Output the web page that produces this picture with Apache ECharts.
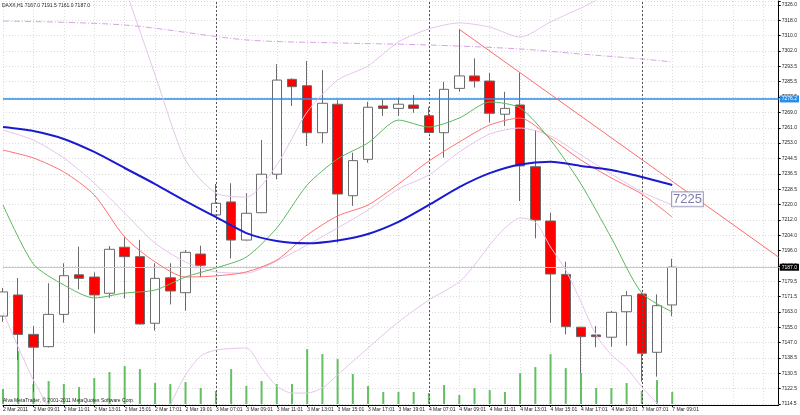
<!DOCTYPE html>
<html><head><meta charset="utf-8">
<script src="https://cdn.jsdelivr.net/npm/echarts@6/dist/echarts.min.js"></script>
<style>html,body{margin:0;padding:0;background:#fff}#c{width:800px;height:415px}</style>
</head><body><div id="c"></div>
<script>
// ---- data ----
const hours = ['07:01','08:01','09:01','10:01','11:01','12:01','13:01','14:01','15:01','16:01','17:01','18:01','19:01','20:01'];
const days = ['2 Mar','3 Mar','4 Mar'];
const categories = [];
days.forEach(d => hours.forEach(h => categories.push(d + ' ' + h)));
categories.push('7 Mar 07:01','7 Mar 08:01','7 Mar 09:01');
const padCategories = ['p1','p2','p3','p4','p5','p6','p7'];
const firstLabel = '2 Mar 2011';

const opens  = [7161.1,7172.3,7151.4,7144.9,7162.0,7183.0,7181.8,7173.2,7197.6,7192.6,7157.3,7181.4,7173.5,7194.0,7214.7,7221.6,7201.4,7215.9,7236.3,7286.6,7283.2,7258.3,7273.4,7224.9,7244.2,7272.5,7271.2,7273.0,7267.3,7258.3,7281.8,7288.4,7285.7,7268.1,7273.0,7240.3,7211.5,7183.2,7155.2,7151.1,7149.9,7163.4,7172.8,7141.9,7167.0];
const closes = [7173.9,7151.4,7144.6,7162.0,7182.5,7181.1,7172.3,7196.5,7192.6,7156.9,7181.1,7174.4,7194.9,7188.0,7220.9,7201.4,7215.6,7236.3,7286.2,7282.7,7258.3,7273.9,7225.8,7243.5,7271.8,7271.2,7273.4,7271.2,7258.4,7281.3,7288.4,7285.7,7268.6,7271.2,7240.7,7212.0,7183.4,7155.5,7150.2,7150.2,7163.1,7171.9,7141.4,7166.6,7187.0];
const lows   = [7158.0,7137.8,7121.0,7144.5,7157.6,7175.3,7152.0,7170.8,7170.5,7156.6,7153.4,7167.3,7164.0,7181.7,7214.4,7191.7,7201.2,7215.7,7233.6,7272.5,7251.3,7252.7,7200.0,7219.5,7242.4,7267.2,7267.2,7268.9,7258.1,7245.1,7280.0,7282.2,7263.6,7261.9,7222.1,7202.3,7157.6,7151.4,7130.8,7144.6,7144.9,7145.4,7126.3,7129.0,7161.0];
const highs  = [7176.0,7181.3,7155.8,7178.5,7189.1,7197.9,7184.3,7198.2,7203.0,7201.5,7189.1,7189.1,7196.1,7198.4,7231.1,7231.5,7226.2,7254.4,7294.6,7287.1,7296.3,7291.5,7275.6,7247.7,7274.7,7276.0,7276.9,7278.3,7271.9,7285.3,7313.1,7297.7,7290.1,7280.0,7290.1,7259.7,7215.9,7189.9,7155.4,7155.8,7163.8,7174.4,7173.3,7172.6,7191.5];
const volumes = [600,2120,800,920,800,680,1040,1280,1520,1400,840,800,880,640,520,1400,720,920,800,800,2200,2000,1800,1200,720,480,480,480,440,760,360,640,560,480,1240,1480,2000,1440,1240,640,640,840,520,960,480];

const maBlue  = [7261.3,null,7259.2,null,7255.0,null,7248.1,null,7239.6,null,7231.1,null,7222.1,null,7213.6,null,7205.1,null,7200.9,null,7199.7,null,7201.2,null,7204.6,null,7211.0,null,7220.0,null,7229.5,null,7236.9,null,7241.5,null,7242.9,null,7240.7,null,7238.5,null,7234.8,null,7230.6];
const maGreen = [7220.0,null,7188.7,null,7177.6,null,7170.7,null,7173.3,null,7174.9,null,7181.8,null,7186.6,null,7192.4,null,7207.8,null,7230.6,null,7244.4,null,7252.9,null,7265.0,null,7261.3,null,7266.1,null,7274.6,null,7271.4,null,7254.4,null,7231.1,null,7202.5,null,7173.3,null,7163.3];
const maRed   = [7249.1,null,7244.9,null,7237.5,null,7225.3,null,7203.0,null,7189.8,null,7181.8,null,7182.4,null,7184.5,null,7190.8,null,7204.1,null,7214.2,null,7220.0,null,7231.1,null,7243.3,null,7253.4,null,7262.4,null,7266.1,null,7255.5,null,7243.8,null,7234.3,null,7225.8,null,7213.6];
const bbMid   = [7259.7,null,7254.4,null,7244.9,null,7231.6,null,7215.7,null,7199.8,null,7189.8,null,7184.5,null,7183.9,null,7190.3,null,7198.8,null,7207.8,null,7217.3,null,7228.5,null,7235.9,null,7248.1,null,7257.6,null,7260.8,null,7256.6,null,7246.5,null,7236.4,null,7226.9,null,7220.0];
const bbUpper = [7356.2,null,7381.7,null,7387.0,null,7373.7,null,7335.0,null,7288.9,null,7243.8,null,7226.3,null,7224.2,null,7241.2,null,7269.3,null,7286.2,null,7293.7,null,7306.4,null,7313.3,null,7316.5,null,7314.3,null,7309.0,null,7317.0,null,7324.4,null,7331.3,null,7330.8,null,7331.3];
const bbLower = [7163.3,null,7127.2,null,7100.7,null,7084.8,null,7082.2,null,7095.4,7114.0,7129.9,7139.9,7143.1,null,7144.2,7133.6,7124.0,7120.3,7120.3,7123.0,7129.9,null,7144.2,null,7158.0,null,7169.6,null,7179.2,7188.2,7198.8,7207.8,7213.1,7211.0,7197.7,7185.5,7168.6,7151.1,7140.5,7133.6,7123.5,7115.0,7108.1];
const maLong  = [7317.5,null,null,null,null,null,null,null,7315.4,null,null,null,null,null,null,null,7307.5,null,null,null,null,null,7305.9,null,null,null,null,null,7304.8,null,null,null,null,null,7302.7,null,null,null,7300.0,null,null,null,7297.4,null,7295.8];

const trendPoints = [[30, 7313.1], [51, 7192.3]];
const hLinePrice = 7276.2;
const bidPrice = 7187.0;
const separators = ['3 Mar 07:01', '4 Mar 07:01', '7 Mar 07:01'];
const textObject = {x: 45, price: 7223, text: '7225'};

const yTickLabels = ['7114.5','7122.5','7130.5','7138.5','7147.0','7155.0','7163.0','7171.5','7179.5','7187.5','7196.0','7204.0','7212.0','7220.0','7228.5','7236.5','7244.5','7253.0','7261.0','7269.0','7277.5','7285.5','7293.5','7302.0','7310.0','7318.0','7326.0'];
const yTickStep = 8.1346;
const priceMin = 7114.5, priceMax = 7328.12;

const titleText = 'DAXX,H1 7167.0 7191.5 7161.0 7187.0';
const copyrightText = 'Alva MetaTrader, \u00a9 2001-2011 MetaQuotes Software Corp.';

// ---- chart ----
const allCats = categories.concat(padCategories);
const nReal = categories.length;
const pairs = arr => arr.map((v, i) => [i, v]).filter(p => p[1] != null);
const candleData = opens.map((o, i) => [o, closes[i], lows[i], highs[i]]);
const evenTick = (i) => i % 2 === 0;

const lineS = (name, arr, color, width, extra) => Object.assign({
  name, type: 'line', data: pairs(arr), xAxisIndex: 0, yAxisIndex: 0,
  showSymbol: false, symbol: 'none', connectNulls: true, smooth: 0.25,
  lineStyle: {color, width}, silent: true, z: 5, animation: false
}, extra || {});

const chart = echarts.init(document.getElementById('c'), null, {renderer: 'canvas'});
chart.setOption({
  animation: false,
  backgroundColor: '#ffffff',
  textStyle: {fontFamily: 'Liberation Sans, Arial, sans-serif'},
  title: [
    {text: titleText, left: 2, top: 3, padding: 0, textStyle: {fontSize: 5, fontWeight: 'normal', color: '#222'}},
    {text: copyrightText, left: 3, top: 398, padding: 0, textStyle: {fontSize: 5, fontWeight: 'normal', color: '#222'}}
  ],
  grid: {left: 1.5, right: 20, top: 1, bottom: 11, containLabel: false},
  xAxis: {
    type: 'category', data: allCats, boundaryGap: false, offset: 1,
    axisLine: {show: true, onZero: false, lineStyle: {color: '#000', width: 1}},
    axisTick: {show: true, interval: (i) => evenTick(i) && i < nReal, length: 2, lineStyle: {color: '#000'}},
    axisLabel: {
      interval: (i) => evenTick(i) && i < nReal, align: 'left', margin: 2, fontSize: 5, color: '#222',
      formatter: (v, i) => i === 0 ? firstLabel : (i < nReal ? v : '')
    },
    splitLine: {show: true, interval: (i) => evenTick(i), lineStyle: {color: '#dcdcdc', type: [1, 2], width: 1}}
  },
  yAxis: [
    {type: 'value', min: priceMin, max: priceMax, show: false, scale: true},
    {
      type: 'value', position: 'right', min: 0, max: (priceMax - priceMin) / yTickStep, interval: 1,
      axisLine: {show: true, lineStyle: {color: '#000', width: 1}},
      axisTick: {show: true, length: 2, lineStyle: {color: '#000'}},
      axisLabel: {
        margin: 3, fontSize: 5, color: '#222', align: 'left',
        formatter: (v) => { const r = Math.round(v); return Math.abs(v - r) < 1e-6 && yTickLabels[r] ? yTickLabels[r] : ''; }
      },
      splitLine: {show: true, lineStyle: {color: '#dcdcdc', type: [1, 2], width: 1}}
    },
    {type: 'value', min: 0, max: 16160, show: false}
  ],
  series: [
    {
      name: 'Volume', type: 'bar', data: volumes, xAxisIndex: 0, yAxisIndex: 2,
      barWidth: 2, itemStyle: {color: '#62bf62'}, silent: true, z: 1
    },
    {
      name: 'DAXX', type: 'candlestick', data: candleData, xAxisIndex: 0, yAxisIndex: 0,
      barWidth: 10, silent: true, z: 3,
      itemStyle: {color: '#ffffff', color0: '#ff0000', borderColor: '#6a6a6a', borderColor0: '#6a6a6a', borderWidth: 1},
      markLine: {
        silent: true, symbol: 'none', animation: false,
        data: [
          ...separators.map(s => ({xAxis: s, lineStyle: {color: '#555', type: [2, 2], width: 1}, label: {show: false}})),
          {yAxis: bidPrice, lineStyle: {color: '#c8c8c8', type: 'solid', width: 1},
           label: {show: true, position: 'end', distance: 1, formatter: bidPrice.toFixed(1), color: '#fff', backgroundColor: '#000', fontSize: 5, padding: [1, 2]}},
          {yAxis: hLinePrice, lineStyle: {color: '#2a8ee8', type: 'solid', width: 1.5},
           label: {show: true, position: 'end', distance: 1, formatter: hLinePrice.toFixed(1), color: '#fff', backgroundColor: '#2a8ee8', fontSize: 5, padding: [1, 2]}}
        ]
      }
    },
    lineS('BB upper', bbUpper, '#e6c4ec', 1),
    lineS('BB lower', bbLower, '#e6c4ec', 1),
    lineS('BB mid', bbMid, '#e6c4ec', 1),
    lineS('MA long', maLong, '#d9a2e6', 1, {smooth: 0.3, lineStyle: {color: '#d9a2e6', width: 1, type: [6, 2, 1, 2]}}),
    lineS('MA red', maRed, '#ff7070', 1),
    lineS('MA green', maGreen, '#5cb85c', 1),
    lineS('MA blue', maBlue, '#1a1ad0', 2),
    {
      name: 'Trend', type: 'line', data: trendPoints, xAxisIndex: 0, yAxisIndex: 0, symbol: 'none',
      lineStyle: {color: '#ff6a6a', width: 1}, silent: true, z: 6
    },
    {
      name: 'Text', type: 'scatter', data: [[textObject.x, textObject.price]], xAxisIndex: 0, yAxisIndex: 0,
      symbolSize: 0, silent: true, z: 7,
      label: {show: true, position: 'inside', formatter: textObject.text, fontSize: 13, color: '#5a5a9a',
        fontFamily: 'Liberation Sans', backgroundColor: '#fff', borderColor: '#8a8aa8', borderWidth: 1, padding: [1, 1, 0, 1]}
    }
  ]
});
</script>
</body></html>
